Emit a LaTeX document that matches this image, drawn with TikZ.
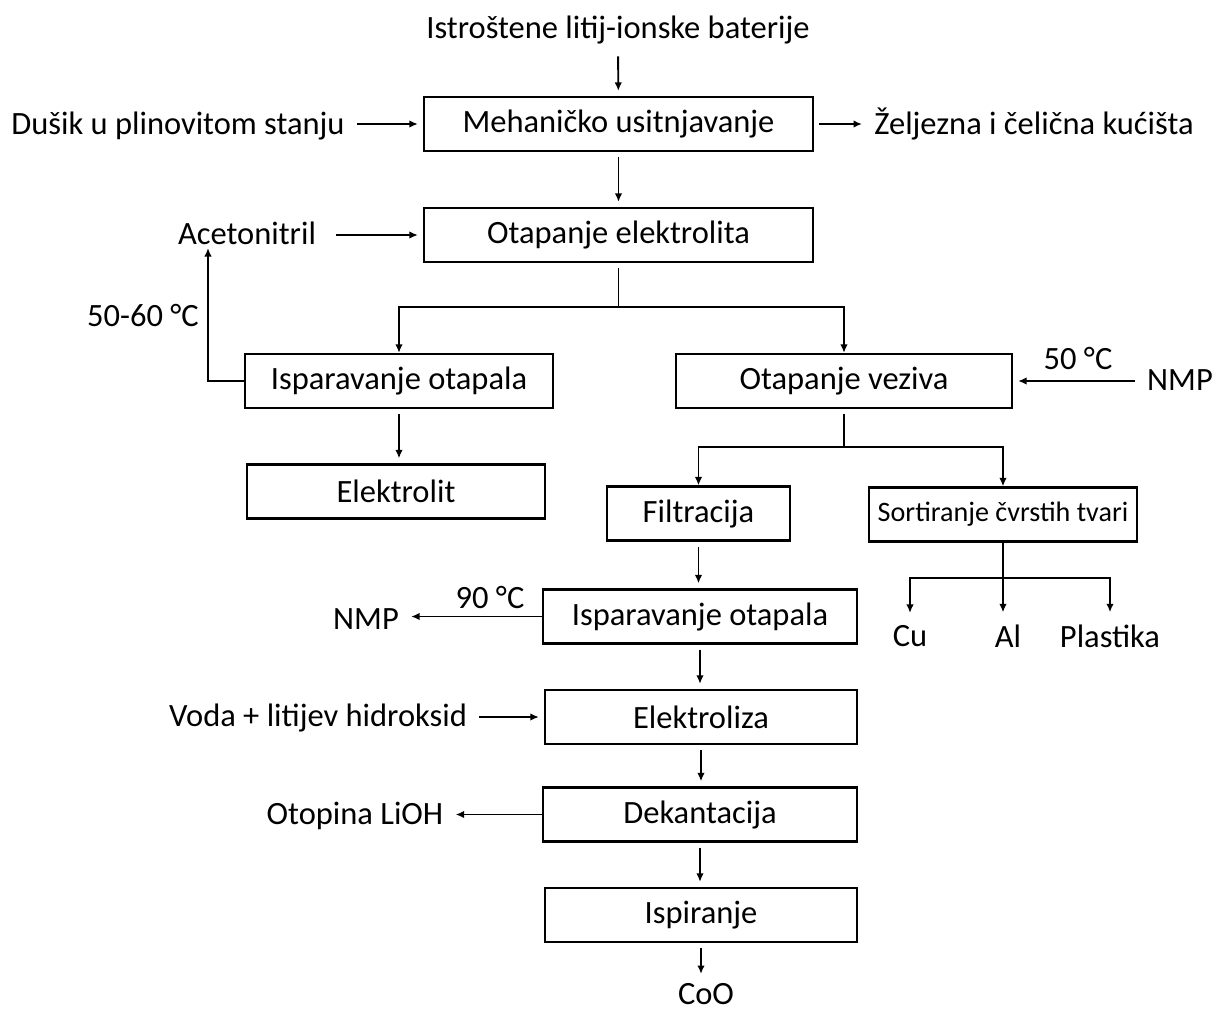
\documentclass[tikz,border=0pt]{standalone}
\usepackage{fontspec}
\setmainfont{Carlito}
\usetikzlibrary{arrows.meta}

\tikzset{
  korak/.style={draw, line width=1.3pt, minimum height=1.08cm, inner sep=2pt},
  tekst/.style={inner sep=0.14cm},
  tok/.style={line width=1.1pt, -{Latex[length=0.17cm,width=0.15cm]},
              shorten >=0.1cm, shorten <=0.1cm},
  linija/.style={line width=1.1pt},
}

\begin{document}
\begin{tikzpicture}[x=0.02cm, y=-0.02cm, every node/.style={font=\fontsize{18.5}{22}\selectfont}]
        \useasboundingbox (0,0) rectangle (1215,1015);

        % glavni koraci
        \node[korak, minimum width=7.78cm] (meh) at (618.5,124) {Mehaničko usitnjavanje};
        \node[korak, minimum width=7.78cm] (elit) at (618.5,235) {Otapanje elektrolita};
        \node[korak, minimum width=6.16cm] (isp1) at (399,381) {Isparavanje otapala};
        \node[korak, minimum width=6.72cm] (vez) at (844,381) {Otapanje veziva};
        \node[korak, minimum width=5.96cm] (elek) at (396,491.5) {Elektrolit};
        \node[korak, minimum width=3.66cm] (filt) at (698.5,513.5) {Filtracija};
        \node[korak, minimum width=5.36cm, font=\fontsize{16}{19}\selectfont] (sort) at (1003,514.5) {Sortiranje čvrstih tvari};
        \node[korak, minimum width=6.28cm] (isp2) at (700,616.5) {Isparavanje otapala};
        \node[korak, minimum width=6.24cm] (eliz) at (701,717) {Elektroliza};
        \node[korak, minimum width=6.28cm] (dek) at (700,814.5) {Dekantacija};
        \node[korak, minimum width=6.24cm] (ispir) at (701,915) {Ispiranje};

        % ulazi i izlazi
        \node[tekst] (bat) at (618,30) {Istroštene litij-ionske baterije};
        \node[tekst] (dusik) at (178,126) {Dušik u plinovitom stanju};
        \node[tekst] (kuc) at (1034,124) {Željezna i čelična kućišta};
        \node[tekst, inner sep=0.4cm] (aceto) at (247,233) {Acetonitril};
        \node[tekst] (nmp1) at (1180,380) {NMP};
        \node[tekst] (cu) at (910,636) {Cu};
        \node[tekst] (al) at (1008,636) {Al};
        \node[tekst] (plast) at (1110,636) {Plastika};
        \node[tekst] (nmp2) at (366,619) {NMP};
        \node[tekst] (voda) at (318,718) {Voda + litijev hidroksid};
        \node[tekst] (lioh) at (355,816) {Otopina LiOH};
        \node[tekst, inner sep=0.08cm] (coo) at (706,994) {CoO};

        % temperature
        \node (t1) at (143,316) {50-60 °C};
        \node (t2) at (1078,358) {50 °C};
        \node (t3) at (490,597) {90 °C};

        \coordinate (povrat) at (208,248);

        % tokovi
        \draw[tok] (bat) -- (meh);
        \draw[tok] (dusik.east |- meh.west) -- (meh.west);
        \draw[tok] (meh.east) -- (meh.east -| kuc.west);
        \draw[tok] (meh) -- (elit);
        \draw[tok, shorten <=0cm] (aceto.east |- elit.west) -- (elit.west);
        \draw[tok, shorten >=0cm] (elit.south) -- ++(0,44) -| (isp1.north);
        \draw[tok, shorten >=0cm] (elit.south) -- ++(0,44) -| (vez.north);
        \draw[tok, shorten <=0cm, shorten >=0cm] (isp1.west) -| (povrat);
        \draw[tok] (isp1.south) -- (isp1.south |- elek.north);
        \draw[tok] (nmp1.west |- vez.east) -- (vez.east);
        \draw[tok, shorten >=0cm] (vez.south) -- ++(0,38) -| (filt.north);
        \draw[tok, shorten >=0cm] (vez.south) -- ++(0,38) -| (sort.north);
        \draw[linija] (sort.south) -- ++(0,35) coordinate (raz);
        \draw[tok, shorten <=0cm] (raz) -| (cu.north);
        \draw[tok, shorten <=0cm] (raz) -- (raz |- al.north);
        \draw[tok, shorten <=0cm] (raz) -| (plast.north);
        \draw[tok] (filt.south) -- (filt.south |- isp2.north);
        \draw[tok, shorten <=0cm] (isp2.west) -- (isp2.west -| nmp2.east);
        \draw[tok] (isp2.south) -- (isp2.south |- eliz.north);
        \draw[tok] (voda.east |- eliz.west) -- (eliz.west);
        \draw[tok] (eliz.south) -- (eliz.south |- dek.north);
        \draw[tok, shorten <=0cm] (dek.west) -- (dek.west -| lioh.east);
        \draw[tok] (dek.south) -- (dek.south |- ispir.north);
        \draw[tok] (ispir.south) -- (ispir.south |- coo.north);
\end{tikzpicture}
\end{document}
